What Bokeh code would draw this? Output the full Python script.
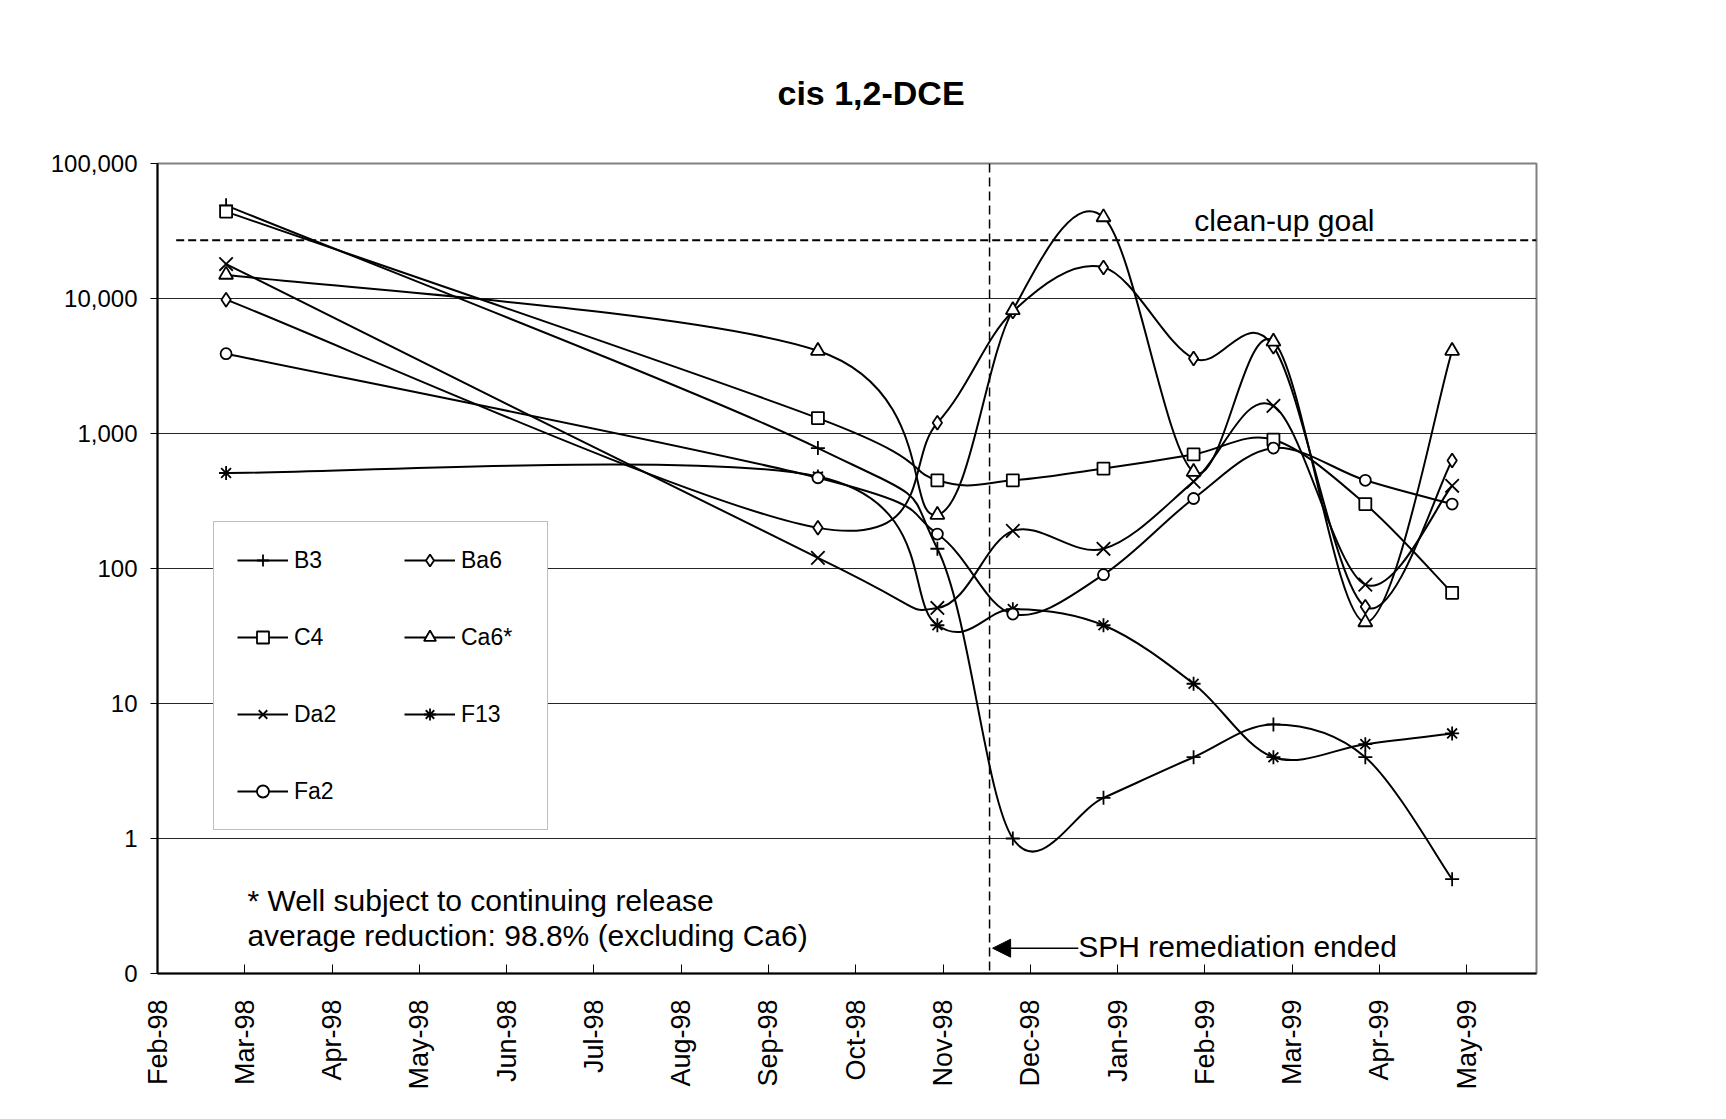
import calendar
import math
import numpy as np
from bokeh.plotting import figure
from bokeh.models import (Range1d, FixedTicker, Label, Span, Arrow, NormalHead,
                          Legend, LegendItem, ColumnDataSource, InlineStyleSheet)
from bokeh.embed import file_html
from bokeh.resources import INLINE

# ---------------- data ----------------
chart_title = "cis 1,2-DCE"
month_labels = ["Feb-98", "Mar-98", "Apr-98", "May-98", "Jun-98", "Jul-98", "Aug-98",
                "Sep-98", "Oct-98", "Nov-98", "Dec-98", "Jan-99", "Feb-99", "Mar-99",
                "Apr-99", "May-99"]
sample_dates = ["1998-02-23", "1998-09-18", "1998-10-30", "1998-11-25", "1998-12-27",
                "1999-01-28", "1999-02-23", "1999-03-27", "1999-04-26"]
B3 = [49000, 780, 140, 1, 2, 4, 7, 4, 0.5]
Ba6 = [9800, 200, 1200, 8000, 17000, 3600, 4400, 52, 630]
C4 = [44000, 1300, 450, 450, 550, 700, 900, 300, 66]
Ca6 = [15000, 4100, 250, 8200, 40000, 520, 4800, 40, 4100]
Da2 = [18000, 120, 51, 190, 140, 440, 1600, 76, 410]
F13 = [510, 480, 38, 50, 38, 14, 4, 5, 6]
Fa2 = [3900, 470, 180, 46, 90, 330, 780, 450, 300]
series_names = ["B3", "Ba6", "C4", "Ca6*", "Da2", "F13", "Fa2"]
series_values = [B3, Ba6, C4, Ca6, Da2, F13, Fa2]
series_markers = ["cross", "diamond", "square", "triangle", "x", "asterisk", "circle"]
cleanup_goal = 27000
goal_start_date = "1998-02-07"
sph_end_date = "1998-11-17"
y_ticks = [0.1, 1, 10, 100, 1000, 10000, 100000]
y_tick_labels = ["0", "1", "10", "100", "1,000", "10,000", "100,000"]
note_1 = "* Well subject to continuing release"
note_2 = "average reduction: 98.8% (excluding Ca6)"
sph_text = "SPH remediation ended"
goal_text = "clean-up goal"

FONT = "Liberation Sans"


def month_pos(d):
    y, m, dd = map(int, d.split("-"))
    idx = (y - 1998) * 12 + (m - 2)
    return idx + (dd - 1) / calendar.monthrange(y, m)[1]


xs = [month_pos(d) for d in sample_dates]

# ---------------- figure ----------------
W, H = 1726, 1112
FL, FR, FT, FB = 157, 1536, 163, 973   # frame edges on the page
X_END = 15.8
p = figure(width=W, height=H, output_backend="svg", toolbar_location=None,
           y_axis_type="log", x_range=Range1d(0, X_END), y_range=Range1d(0.1, 100000),
           min_border_left=FL, min_border_right=W - FR,
           min_border_top=FT, min_border_bottom=H - FB,
           background_fill_color="white", border_fill_color="white")
p.stylesheets = [InlineStyleSheet(
    css=":host { outline: 6px double #8c8c8c; outline-offset: -10px; }")]

p.title.text = chart_title
p.title.align = "left"
p.title.offset = 620
p.title.standoff = 104
p.title.text_font = FONT
p.title.text_font_size = "34px"
p.title.text_font_style = "bold"
p.title.text_color = "black"

p.outline_line_color = "#808080"
p.outline_line_width = 2

p.xgrid.visible = False
p.ygrid.ticker = FixedTicker(ticks=y_ticks)
p.ygrid.grid_line_color = "#262626"
p.ygrid.grid_line_width = 1

p.xaxis.ticker = FixedTicker(ticks=list(range(len(month_labels))))
p.xaxis.major_label_overrides = {i: lab for i, lab in enumerate(month_labels)}
p.xaxis.major_label_orientation = math.pi / 2
p.xaxis.major_tick_in = 9
p.xaxis.major_tick_out = 0
p.xaxis.minor_tick_line_color = None
p.xaxis.major_label_standoff = 26
p.xaxis.major_label_text_font_size = "27px"

p.yaxis.ticker = FixedTicker(ticks=y_ticks)
p.yaxis.major_label_overrides = {t: l for t, l in zip(y_ticks, y_tick_labels)}
p.yaxis.major_tick_in = 0
p.yaxis.major_tick_out = 7
p.yaxis.minor_tick_line_color = None
p.yaxis.major_label_standoff = 13
p.yaxis.major_label_text_font_size = "24px"

for ax in (p.xaxis, p.yaxis):
    ax.axis_line_color = "black"
    ax.axis_line_width = 2
    ax.major_tick_line_color = "black"
    ax.major_tick_line_width = 1
    ax.major_label_text_font = FONT
    ax.major_label_text_color = "black"

# clean-up goal and SPH end markers
p.segment(x0=[month_pos(goal_start_date)], x1=[X_END], y0=[cleanup_goal], y1=[cleanup_goal],
          line_color="black", line_width=2, line_dash="8 4")
sph_x = month_pos(sph_end_date)
p.add_layout(Span(location=sph_x, dimension="height", line_color="black",
                  line_width=1.5, line_dash="9 5"))

# ---------------- series (Excel-like smoothed lines) ----------------
marker_sizes = {"cross": 14, "diamond": 14, "square": 12, "triangle": 14,
                "x": 19, "asterisk": 14, "circle": 11}
items = []
for name, vals, mk in zip(series_names, series_values, series_markers):
    P = np.column_stack([xs, np.log10(vals)])
    n = len(P)
    seg = {k: [] for k in ("x0", "y0", "x1", "y1", "cx0", "cy0", "cx1", "cy1")}
    for i in range(n - 1):
        p0 = P[i - 1] if i > 0 else P[i]
        p1 = P[i]
        p2 = P[i + 1]
        p3 = P[i + 2] if i + 2 < n else P[i + 1]
        c1 = p1 + (p2 - p0) / 6.0
        c2 = p2 - (p3 - p1) / 6.0
        seg["x0"].append(p1[0]); seg["y0"].append(10 ** p1[1])
        seg["x1"].append(p2[0]); seg["y1"].append(10 ** p2[1])
        seg["cx0"].append(c1[0]); seg["cy0"].append(10 ** c1[1])
        seg["cx1"].append(c2[0]); seg["cy1"].append(10 ** c2[1])
    src = ColumnDataSource(seg)
    br = p.bezier(x0="x0", y0="y0", x1="x1", y1="y1", cx0="cx0", cy0="cy0",
                  cx1="cx1", cy1="cy1", source=src, line_color="black", line_width=2)
    sr = p.scatter(xs, vals, marker=mk, size=marker_sizes[mk], line_color="black",
                   fill_color="white", line_width=1.8)
    items.append(LegendItem(label=name, renderers=[br, sr]))

legend = Legend(items=items, location=(56, 143), orientation="horizontal", ncols=2,
                label_text_font=FONT, label_text_font_size="23px", label_text_color="black",
                label_standoff=6, glyph_width=51, glyph_height=30, label_height=24,
                label_width=63, spacing=47, padding=23, margin=0,
                border_line_color="#808080", border_line_width=1.5,
                background_fill_color="white", background_fill_alpha=1.0)
p.add_layout(legend)

# ---------------- texts ----------------
p.add_layout(Label(x=11.88, y=10 ** 4.58, text=goal_text, text_font=FONT,
                   text_font_size="30px", text_align="left", text_baseline="middle",
                   text_color="black"))
p.add_layout(Label(x=1.03, y=10 ** -0.458, text=note_1, text_font=FONT,
                   text_font_size="30px", text_align="left", text_baseline="middle",
                   text_color="black"))
p.add_layout(Label(x=1.03, y=10 ** -0.718, text=note_2, text_font=FONT,
                   text_font_size="30px", text_align="left", text_baseline="middle",
                   text_color="black"))
p.add_layout(Label(x=sph_x + 1.017, y=10 ** -0.80, text=sph_text, text_font=FONT,
                   text_font_size="30px", text_align="left", text_baseline="middle",
                   text_color="black"))
p.add_layout(Arrow(end=NormalHead(size=18, fill_color="black", line_color="black"),
                   x_start=sph_x + 1.017, y_start=10 ** -0.8126,
                   x_end=sph_x + 0.035, y_end=10 ** -0.8126,
                   line_color="black", line_width=1.5))

open("out.html", "w").write(file_html(p, INLINE))
